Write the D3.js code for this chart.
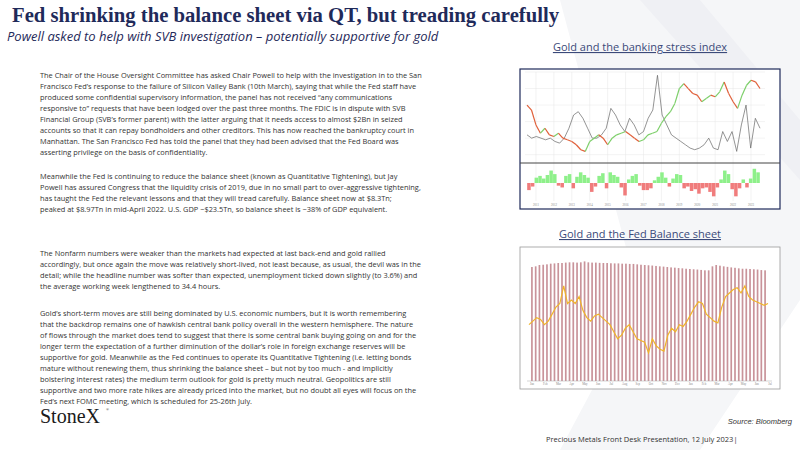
<!DOCTYPE html>
<html><head><meta charset="utf-8">
<script src="https://cdn.jsdelivr.net/npm/d3@7"></script>
<style>body{margin:0;background:#fff}svg{display:block}</style>
</head><body>
<svg id="slide" width="800" height="450"></svg>
<script>
// paragraph lines as laid out on the slide
const para1 = ["The Chair of the House Oversight Committee has asked Chair Powell to help with the investigation in to the San",
"Francisco Fed’s response to the failure of Silicon Valley Bank (10th March), saying that while the Fed staff have",
"produced some confidential supervisory information, the panel has not received “any communications",
"responsive to” requests that have been lodged over the past three months.  The FDIC is in dispute with SVB",
"Financial Group (SVB’s former parent)  with the latter arguing that it needs access to almost $2Bn in seized",
"accounts so that it can repay bondholders and other creditors.  This has now reached the bankruptcy court in",
"Manhattan.  The San Francisco Fed has told the panel that they had been advised that the Fed Board was",
"asserting privilege on the basis of confidentiality."];
const para2 = ["Meanwhile the Fed is continuing to reduce the balance sheet (known as Quantitative Tightening), but Jay",
"Powell has assured Congress that the liquidity crisis of 2019, due in no small part to over-aggressive tightening,",
"has taught the Fed the relevant lessons and that they will tread carefully.  Balance sheet now at $8.3Tn;",
"peaked at $8.97Tn in mid-April 2022.  U.S. GDP ~$23.5Tn, so balance sheet is ~38% of GDP equivalent."];
const para3 = ["The Nonfarm numbers were weaker than the markets had expected at last back-end and gold rallied",
"accordingly, but once again the move was relatively short-lived, not least because, as usual, the devil was in the",
"detail; while the headline number was softer than expected, unemployment  ticked down slightly (to 3.6%) and",
"the average working week lengthened to 34.4 hours."];
const para4 = ["Gold’s short-term moves are still being dominated by U.S. economic numbers, but it is worth remembering",
"that the backdrop remains one of hawkish central bank policy overall in the western hemisphere.  The nature",
"of flows through the market does tend to suggest that there is some central bank buying going on and for the",
"longer term the expectation of a further diminution of the dollar’s role in foreign exchange reserves will be",
"supportive for gold.  Meanwhile as the Fed continues to operate its Quantitative Tightening (i.e. letting bonds",
"mature without renewing them, thus shrinking the balance sheet – but not by too much - and implicitly",
"bolstering interest rates) the medium term outlook for gold is pretty much neutral.  Geopolitics are still",
"supportive and two more rate hikes are already priced into the market, but no doubt all eyes will focus on the",
"Fed’s next FOMC meeting, which is scheduled for 25-26th July."];

// chart 1: gold (index), banking stress index, histogram
const goldA = [200,215,260,285,270,290,295,285,300,305,310,320,335,340,310,300,290,300,320,300,290,285,280,290,300,310,305,290,285,280,255,235,220,195,150,135,150,165,170,190,180,170,175,160,130,165,190,210,170,140,125,130,150].map(y => 400 - y);
const stress = [290,300,295,300,305,300,310,315,300,270,230,220,240,270,300,300,290,270,210,230,260,280,240,260,290,280,240,215,110,230,260,290,300,310,320,330,335,330,320,300,330,335,280,310,280,340,260,200,330,240,270].map(y => 400 - y);
const hist = [-8,-4,6,8,5,9,14,10,-3,-5,8,10,-6,7,12,9,6,-10,-4,8,11,-6,12,9,7,-5,-14,4,8,10,-3,-8,-8,-6,3,7,12,6,-4,5,10,9,-6,-4,-9,-7,-12,-6,-5,-10,-15,-5,4,14,10,-7,-15,-6,4,-5,5,16,12];
const yearsA = ["2011","2012","2013","2014","2015","2016","2017","2018","2019","2020","2021","2022","2023"];

// chart 2: Fed balance sheet ($Tn, weekly bars sampled) and gold ($/oz)
const fedBS = [8.55,8.6,8.7,8.72,8.75,8.8,8.82,8.85,8.85,8.88,8.9,8.9,8.88,8.9,8.97,8.9,8.88,8.88,8.86,8.85,8.85,8.83,8.82,8.82,8.8,8.8,8.78,8.78,8.75,8.72,8.7,8.68,8.66,8.63,8.6,8.58,8.55,8.52,8.5,8.47,8.45,8.42,8.4,8.38,8.36,8.33,8.3,8.3,8.6,8.7,8.65,8.6,8.56,8.52,8.49,8.45,8.42,8.42,8.4,8.38,8.36,8.32,8.3];
const gold2 = [1808,1830,1852,1841,1808,1830,1874,1918,1940,2050,1940,1962,1940,1984,1896,1852,1830,1863,1874,1852,1830,1808,1764,1720,1742,1786,1808,1764,1720,1709,1698,1632,1720,1676,1654,1643,1742,1786,1764,1808,1797,1830,1874,1918,1951,1940,1874,1852,1830,1819,1918,1984,2006,2028,2039,2006,2050,1984,1962,1951,1940,1929,1940];
const monthsB = ["Jan","Feb","Mar","Apr","May","Jun","Jul","Aug","Sep","Oct","Nov","Dec","Jan","Feb","Mar","Apr","May","Jun","Jul"];

const svg = d3.select("#slide");
const navy = "#1f2a5a";

// faint watermark shapes
svg.append("path").attr("d","M560 0 L800 0 L800 300 L700 450 L560 450 L640 300 Z").attr("fill","#f5f6f8");
svg.append("path").attr("d","M640 0 L700 0 L800 120 L800 180 Z").attr("fill","#eff0f4");

svg.append("text").attr("x",12).attr("y",22).attr("fill",navy)
  .style("font-family","Liberation Serif").style("font-weight","bold").style("font-size","20.7px")
  .text("Fed shrinking the balance sheet via QT, but treading carefully");
svg.append("text").attr("x",7).attr("y",41).attr("fill",navy)
  .style("font-family","Open Sans").style("font-style","italic").style("font-size","13px")
  .text("Powell asked to help with SVB investigation – potentially supportive for gold");

function block(lines, y0) {
  const t = svg.append("text").attr("fill","#333").style("font-family","Open Sans").style("font-size","7.4px");
  lines.forEach((l, i) => t.append("tspan").attr("x",40).attr("y",y0 + i * 10.95).text(l));
}
block(para1, 78); block(para2, 179); block(para3, 256); block(para4, 316);

svg.append("text").attr("x",40).attr("y",423).attr("fill","#1a1a1a")
  .style("font-family","Liberation Serif").style("font-size","20px").text("StoneX");
svg.append("text").attr("x",106).attr("y",411).attr("fill","#1a1a1a").style("font-size","4px").text("®");

// chart titles
[["Gold and the banking stress index",51],["Gold and the Fed Balance sheet",238]].forEach(([s,y]) => {
  svg.append("text").attr("x",640).attr("y",y).attr("text-anchor","middle").attr("fill","#3b4a7a")
    .style("font-family","Open Sans").style("font-size","11px").style("text-decoration","underline").text(s);
});

// ---- chart 1 ----
const c1 = {x:520,y:69,w:260,h:140,split:163};
svg.append("rect").attr("x",c1.x).attr("y",c1.y).attr("width",c1.w).attr("height",c1.h).attr("fill","#fff").attr("stroke",navy).attr("stroke-width",1.2);
const xA = d3.scaleLinear().domain([0,goldA.length-1]).range([c1.x+7,c1.x+c1.w-20]);
const xS = d3.scaleLinear().domain([0,stress.length-1]).range([c1.x+7,c1.x+c1.w-20]);
const yA = d3.scaleLinear().domain([40,300]).range([c1.split-5,c1.y+3]);
const gGrid = svg.append("g").attr("stroke","#e6e6e6").attr("stroke-width",0.5);
yA.ticks(6).forEach(v => gGrid.append("line").attr("x1",c1.x+5).attr("x2",c1.x+c1.w-15).attr("y1",yA(v)).attr("y2",yA(v)));
const xYear = d3.scaleLinear().domain([0,yearsA.length]).range([c1.x+7,c1.x+c1.w-20]);
yearsA.forEach((yr,i) => gGrid.append("line").attr("x1",xYear(i+0.5)).attr("x2",xYear(i+0.5)).attr("y1",c1.y+3).attr("y2",c1.y+c1.h-8));
svg.append("path").datum(stress).attr("fill","none").attr("stroke","#666").attr("stroke-width",0.7)
  .attr("d",d3.line().x((d,i)=>xS(i)).y(d=>yA(d)));
goldA.slice(1).forEach((d,i) => {
  svg.append("line").attr("x1",xA(i)).attr("y1",yA(goldA[i])).attr("x2",xA(i+1)).attr("y2",yA(d))
    .attr("stroke", d >= goldA[i] ? "#7dcf6a" : "#e0603a").attr("stroke-width",1.2);
});
svg.append("line").attr("x1",c1.x).attr("x2",c1.x+c1.w).attr("y1",c1.split).attr("y2",c1.split).attr("stroke","#444");
const xH = d3.scaleBand().domain(d3.range(hist.length)).range([c1.x+7,c1.x+c1.w-20]).padding(0.05);
const yH = d3.scaleLinear().domain([-18,18]).range([c1.y+c1.h-10,c1.split+4]);
svg.append("g").selectAll("rect").data(hist).join("rect")
  .attr("x",(d,i)=>xH(i)).attr("width",xH.bandwidth())
  .attr("y",d=>yH(Math.max(0,d))).attr("height",d=>Math.abs(yH(d)-yH(0)))
  .attr("fill",d=>d>0?"#8ef08a":"#f07c7c");
svg.append("g").selectAll("text").data(yearsA).join("text")
  .attr("x",(d,i)=>xYear(i+0.5)).attr("y",c1.y+c1.h-3).attr("text-anchor","middle")
  .attr("fill","#888").style("font-size","3px").text(d=>d);

// ---- chart 2 ----
const c2 = {x:520,y:247,w:260,h:142};
svg.append("rect").attr("x",c2.x).attr("y",c2.y).attr("width",c2.w).attr("height",c2.h).attr("fill","#fff").attr("stroke","#999").attr("stroke-width",0.8);
const p2 = {l:c2.x+7,r:c2.x+c2.w-8,t:c2.y+2,b:c2.y+c2.h-8};
const xB = d3.scaleBand().domain(d3.range(fedBS.length)).range([p2.l+2,p2.r-4]).padding(0.55);
const yB = d3.scaleLinear().domain([0,9.9]).range([p2.b,p2.t]);
svg.append("g").selectAll("rect").data(fedBS).join("rect")
  .attr("x",(d,i)=>xB(i)).attr("width",xB.bandwidth()).attr("y",d=>yB(d)).attr("height",d=>p2.b-yB(d))
  .attr("fill","#c9939a");
const xG = d3.scaleLinear().domain([0,gold2.length-1]).range([p2.l+2,p2.r-4]);
const yG = d3.scaleLinear().domain([1456,2281]).range([p2.b,p2.t]);
svg.append("path").datum(gold2).attr("fill","none").attr("stroke","#f0b42a").attr("stroke-width",1.2)
  .attr("d",d3.line().x((d,i)=>xG(i)).y(d=>yG(d)));
svg.append("line").attr("x1",p2.l).attr("x2",p2.r).attr("y1",p2.b).attr("y2",p2.b).attr("stroke","#aaa").attr("stroke-width",0.5);
const xM = d3.scalePoint().domain(d3.range(monthsB.length)).range([p2.l+5,p2.r-2]);
svg.append("g").selectAll("text").data(monthsB).join("text")
  .attr("x",(d,i)=>xM(i)).attr("y",p2.b+4).attr("text-anchor","middle").attr("fill","#888").style("font-size","3px").text(d=>d);

svg.append("text").attr("x",792).attr("y",424).attr("text-anchor","end").attr("fill","#333")
  .style("font-family","Liberation Sans").style("font-style","italic").style("font-size","7.5px").text("Source:  Bloomberg");
svg.append("text").attr("x",546).attr("y",442).attr("fill","#333")
  .style("font-family","Open Sans").style("font-size","7.5px").text("Precious Metals Front Desk Presentation, 12 July 2023|");
</script>
</body></html>
